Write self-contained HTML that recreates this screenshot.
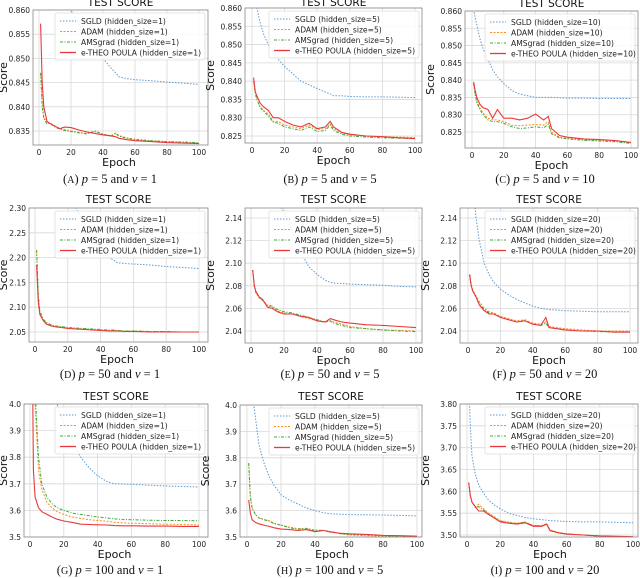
<!DOCTYPE html>
<html><head><meta charset="utf-8"><style>
body{margin:0;background:#fff;}
svg{display:block;font-family:"DejaVu Sans","Liberation Sans",sans-serif;}
.cap{font-family:"Liberation Serif",serif;font-size:12.5px;}
</style></head><body>
<svg id="fig" width="640" height="578" viewBox="0 0 640 578"></svg>
<script>
const EP=[1,2,3,5,7,10,13,16,20,25,30,35,40,45,48,50,55,60,70,80,90,100];
const seriesNames=["SGLD","ADAM","AMSgrad","e-THEO POULA"];
const hidden=[1,5,10,1,5,20,1,5,20];
const captions=[["A","5","1"],["B","5","5"],["C","5","10"],["D","50","1"],["E","50","5"],["F","50","20"],["G","100","1"],["H","100","5"],["I","100","20"]];
// Panel A
const A_sgld=[0.90,0.89,0.885,0.88,0.877,0.873,0.868,0.864,0.860,0.857,0.855,0.852,0.850,0.848,0.847,0.8462,0.8458,0.8456,0.8454,0.8451,0.8449,0.8446];
const A_adam=[0.847,0.841,0.838,0.8365,0.8367,0.836,0.8355,0.8353,0.835,0.8347,0.8345,0.8349,0.8344,0.8340,0.8346,0.8340,0.8336,0.8333,0.8330,0.8328,0.8327,0.8325];
const A_ams=[0.847,0.840,0.8375,0.8365,0.8366,0.8358,0.8354,0.8351,0.8349,0.8346,0.8344,0.8350,0.8343,0.8339,0.8345,0.8339,0.8335,0.8332,0.8330,0.8328,0.8327,0.8326];
const A_red=[0.8572,0.845,0.840,0.837,0.8365,0.836,0.8355,0.8358,0.8357,0.8352,0.8348,0.8345,0.8342,0.8340,0.8338,0.8335,0.8332,0.8330,0.8328,0.8326,0.8325,0.8324];
// Panel B
const B_sgld=[0.865,0.862,0.860,0.856,0.853,0.850,0.848,0.846,0.844,0.842,0.840,0.839,0.838,0.837,0.8365,0.836,0.836,0.8358,0.8357,0.8357,0.8356,0.8355];
const B_adam=[0.840,0.837,0.835,0.833,0.832,0.831,0.829,0.829,0.828,0.8275,0.827,0.828,0.8268,0.827,0.8283,0.827,0.8258,0.8253,0.8250,0.8248,0.8247,0.8246];
const B_ams=[0.840,0.8365,0.835,0.8328,0.8318,0.8305,0.8288,0.8285,0.8275,0.827,0.8265,0.8275,0.8262,0.8265,0.828,0.8265,0.8255,0.825,0.8247,0.8245,0.8244,0.8243];
const B_red=[0.841,0.837,0.836,0.834,0.833,0.832,0.830,0.830,0.829,0.828,0.8275,0.8285,0.827,0.8275,0.829,0.8275,0.826,0.8255,0.825,0.8248,0.8245,0.8243];
// Panel C
const C_sgld=[0.8605,0.858,0.856,0.852,0.849,0.846,0.843,0.841,0.839,0.837,0.836,0.8355,0.835,0.835,0.835,0.835,0.8349,0.8348,0.8348,0.8347,0.8347,0.8347];
const C_adam=[0.839,0.836,0.834,0.832,0.8305,0.829,0.8285,0.8285,0.828,0.827,0.8268,0.827,0.8272,0.827,0.828,0.825,0.8235,0.8232,0.8228,0.8226,0.8224,0.8219];
const C_ams=[0.839,0.8358,0.8335,0.8315,0.830,0.8285,0.828,0.828,0.8275,0.8265,0.826,0.8262,0.8265,0.8262,0.8272,0.8245,0.8233,0.823,0.8226,0.8224,0.8222,0.8217];
const C_red=[0.8395,0.837,0.835,0.833,0.832,0.8315,0.829,0.8315,0.829,0.829,0.8285,0.829,0.8302,0.8285,0.8295,0.826,0.824,0.8235,0.823,0.8228,0.8225,0.822];
// Panel D
const D_sgld=[2.60,2.55,2.50,2.46,2.43,2.40,2.37,2.345,2.32,2.30,2.27,2.245,2.22,2.20,2.195,2.19,2.188,2.187,2.185,2.182,2.180,2.178];
const D_adam=[2.215,2.12,2.09,2.075,2.068,2.063,2.061,2.060,2.058,2.057,2.056,2.055,2.054,2.053,2.053,2.053,2.052,2.052,2.051,2.051,2.050,2.050];
const D_ams=[2.215,2.125,2.092,2.076,2.069,2.064,2.062,2.061,2.059,2.058,2.057,2.056,2.055,2.054,2.054,2.053,2.052,2.052,2.051,2.051,2.050,2.050];
const D_red=[2.185,2.11,2.085,2.073,2.066,2.062,2.060,2.059,2.057,2.056,2.055,2.054,2.053,2.052,2.052,2.052,2.051,2.051,2.050,2.050,2.050,2.050];
// Panel E
const E_sgld=[2.30,2.27,2.25,2.22,2.20,2.18,2.165,2.155,2.145,2.128,2.11,2.097,2.09,2.085,2.083,2.0825,2.082,2.0815,2.081,2.0805,2.0795,2.079];
const E_adam=[2.094,2.08,2.074,2.069,2.067,2.062,2.061,2.058,2.056,2.055,2.053,2.051,2.049,2.048,2.049,2.048,2.046,2.044,2.042,2.041,2.0405,2.040];
const E_ams=[2.094,2.079,2.074,2.070,2.067,2.063,2.062,2.059,2.057,2.056,2.054,2.052,2.050,2.048,2.049,2.047,2.045,2.043,2.042,2.041,2.040,2.0395];
const E_red=[2.094,2.08,2.075,2.070,2.068,2.061,2.060,2.057,2.055,2.055,2.053,2.052,2.049,2.048,2.051,2.050,2.048,2.047,2.0455,2.045,2.044,2.043];
// Panel F
const F_sgld=[2.25,2.20,2.17,2.14,2.12,2.10,2.09,2.083,2.077,2.072,2.068,2.065,2.062,2.060,2.0595,2.059,2.0585,2.058,2.0575,2.057,2.057,2.057];
const F_adam=[2.09,2.081,2.076,2.071,2.066,2.060,2.057,2.056,2.053,2.051,2.049,2.050,2.047,2.046,2.048,2.044,2.043,2.042,2.041,2.040,2.040,2.040];
const F_ams=[2.09,2.080,2.075,2.070,2.064,2.059,2.056,2.055,2.052,2.050,2.048,2.049,2.046,2.045,2.047,2.043,2.042,2.041,2.040,2.0395,2.039,2.039];
const F_red=[2.09,2.08,2.075,2.070,2.063,2.058,2.055,2.055,2.052,2.050,2.048,2.049,2.046,2.045,2.052,2.043,2.042,2.041,2.040,2.040,2.039,2.039];
// Panel G
const G_sgld=[4.60,4.45,4.35,4.20,4.12,4.05,4.02,4.0,3.93,3.86,3.80,3.76,3.73,3.71,3.703,3.70,3.699,3.698,3.695,3.692,3.690,3.688];
const G_adam=[4.5,4.2,4.0,3.75,3.68,3.63,3.61,3.595,3.585,3.575,3.57,3.565,3.562,3.56,3.557,3.555,3.553,3.552,3.55,3.548,3.547,3.545];
const G_ams=[4.5,4.25,4.05,3.80,3.70,3.65,3.625,3.61,3.60,3.59,3.585,3.58,3.575,3.572,3.570,3.568,3.566,3.565,3.563,3.562,3.562,3.561];
const G_red=[4.5,3.75,3.65,3.61,3.595,3.585,3.575,3.567,3.56,3.555,3.548,3.547,3.546,3.545,3.544,3.543,3.542,3.542,3.541,3.541,3.540,3.540];
// Panel H
const H_sgld=[4.30,4.15,4.05,3.95,3.85,3.78,3.73,3.695,3.66,3.64,3.625,3.61,3.60,3.592,3.589,3.588,3.586,3.585,3.584,3.583,3.582,3.580];
const H_adam=[3.78,3.65,3.61,3.585,3.572,3.567,3.562,3.552,3.545,3.537,3.532,3.533,3.526,3.525,3.522,3.52,3.512,3.508,3.505,3.503,3.500,3.496];
const H_ams=[3.78,3.65,3.61,3.585,3.572,3.565,3.560,3.550,3.545,3.535,3.530,3.532,3.525,3.525,3.522,3.520,3.512,3.510,3.508,3.505,3.503,3.498];
const H_red=[3.64,3.59,3.565,3.555,3.55,3.545,3.54,3.535,3.53,3.528,3.525,3.528,3.52,3.525,3.52,3.518,3.514,3.512,3.51,3.506,3.505,3.503];
// Panel I
const I_sgld=[3.85,3.75,3.68,3.64,3.615,3.595,3.58,3.57,3.56,3.55,3.545,3.54,3.537,3.535,3.534,3.533,3.532,3.531,3.530,3.530,3.529,3.528];
const I_adam=[3.62,3.59,3.575,3.565,3.57,3.56,3.55,3.543,3.533,3.53,3.527,3.53,3.522,3.522,3.526,3.512,3.506,3.503,3.500,3.498,3.496,3.494];
const I_ams=[3.62,3.59,3.575,3.563,3.565,3.557,3.548,3.54,3.532,3.528,3.526,3.529,3.521,3.521,3.524,3.511,3.505,3.502,3.500,3.497,3.495,3.493];
const I_red=[3.62,3.59,3.575,3.565,3.555,3.555,3.547,3.54,3.53,3.527,3.525,3.528,3.52,3.52,3.525,3.51,3.505,3.502,3.500,3.498,3.497,3.496];
const yTickA=[0.835,0.840,0.845,0.850,0.855,0.860];
const yTickB=[0.825,0.830,0.835,0.840,0.845,0.850,0.855,0.860];
const yTickD=[2.05,2.10,2.15,2.20,2.25,2.30];
const yTickE=[2.04,2.06,2.08,2.10,2.12,2.14];
const yTickG=[3.5,3.6,3.7,3.8,3.9,4.0];
const yTickI=[3.50,3.55,3.60,3.65,3.70,3.75,3.80];
const xTicks=[0,20,40,60,80,100];
const panelData=[[A_sgld,A_adam,A_ams,A_red],[B_sgld,B_adam,B_ams,B_red],[C_sgld,C_adam,C_ams,C_red],[D_sgld,D_adam,D_ams,D_red],[E_sgld,E_adam,E_ams,E_red],[F_sgld,F_adam,F_ams,F_red],[G_sgld,G_adam,G_ams,G_red],[H_sgld,H_adam,H_ams,H_red],[I_sgld,I_adam,I_ams,I_red]];
const panelTicks=[yTickA,yTickB,yTickB,yTickD,yTickE,yTickE,yTickG,yTickG,yTickI];
const dec=[3,3,3,2,2,2,1,1,2];

// geometry (layout, not data)
const G=[
 {l:33,r:208,t:10,b:145,x0:39,x1:199,v1:0.860,p1:10,v2:0.835,p2:131,cy:183,tty:6},
 {l:245,r:422,t:8,b:143,x0:252,x1:415,v1:0.860,p1:8,v2:0.825,p2:136,cy:183,tty:6},
 {l:465,r:638,t:11,b:148,x0:472,x1:631,v1:0.860,p1:11,v2:0.825,p2:132,cy:183,tty:7},
 {l:29,r:208,t:208,b:342,x0:35,x1:199,v1:2.30,p1:208,v2:2.05,p2:332,cy:378,tty:203},
 {l:245,r:422,t:208,b:343,x0:251,x1:416,v1:2.14,p1:218,v2:2.04,p2:331,cy:378,tty:203},
 {l:460,r:638,t:208,b:343,x0:468,x1:630,v1:2.14,p1:218,v2:2.04,p2:331,cy:378,tty:203},
 {l:24,r:208,t:404,b:537,x0:30,x1:199,v1:4.0,p1:404,v2:3.5,p2:537,cy:574,tty:400},
 {l:240,r:422,t:405,b:537,x0:247,x1:417,v1:4.0,p1:405,v2:3.5,p2:537,cy:574,tty:400},
 {l:460,r:638,t:404,b:537,x0:467,x1:633,v1:3.80,p1:404,v2:3.50,p2:535,cy:574,tty:400}
];
const colors=["#5b9bd5","#ff8c1a","#3aaa3a","#e8383d"];
const dashes=["1.5,1.5","2,1.5","3,1.5,1,1.5",""];
const NS="http://www.w3.org/2000/svg";
const svg=document.getElementById('fig');
function mk(tag,attrs,parent){const e=document.createElementNS(NS,tag);for(const k in attrs)e.setAttribute(k,attrs[k]);(parent||svg).appendChild(e);return e;}
const defs=mk('defs',{});
G.forEach((g,i)=>{
  const X=v=>g.x0+(v)*(g.x1-g.x0)/100;
  const Y=v=>g.p1+(v-g.v1)*(g.p2-g.p1)/(g.v2-g.v1);
  const grp=mk('g',{});
  
  
  const cp=mk('clipPath',{id:'cp'+i},defs);
  mk('rect',{x:g.l,y:g.t,width:g.r-g.l,height:g.b-g.t},cp);
  xTicks.forEach(t=>{
    const gl=mk('line',{x1:X(t),x2:X(t),y1:g.t,y2:g.b,stroke:'#d8d8d8','stroke-width':0.8},grp);
    
    
    const tl=mk('text',{x:X(t),y:g.b+10,'font-size':7.5,'text-anchor':'middle',fill:'#222'},grp);
    tl.textContent=t;
    
    
  });
  panelTicks[i].forEach(t=>{
    const gl=mk('line',{x1:g.l,x2:g.r,y1:Y(t),y2:Y(t),stroke:'#d8d8d8','stroke-width':0.8},grp);
    
    
    const tl=mk('text',{x:g.l-3,y:Y(t)+3,'font-size':7.5,'text-anchor':'end',fill:'#222'},grp);
    tl.textContent=t.toFixed(dec[i]);
    
    
  });
  const sg=mk('g',{'clip-path':'url(#cp'+i+')'},grp);
  panelData[i].forEach((arr,s)=>{
    const d=arr.map((v,k)=>(k?'L':'M')+X(EP[k]).toFixed(1)+','+Y(v).toFixed(1)).join(' ');
    const p=mk('path',{d:d,fill:'none',stroke:colors[s],'stroke-width':s==3?1.1:1,'stroke-dasharray':dashes[s]},sg);
    
    
  });
  const fr=mk('rect',{x:g.l,y:g.t,width:g.r-g.l,height:g.b-g.t,fill:'none',stroke:'#888','stroke-width':0.8},grp);
  
  
  const lw=150,lh=47,lx=g.r-lw-3,ly=g.t+3;
  const lg=mk('g',{},grp);
  
  
  mk('rect',{x:lx,y:ly,width:lw,height:lh,rx:2,fill:'#fff','fill-opacity':0.85,stroke:'#ddd','stroke-width':0.8},lg);
  seriesNames.forEach((n,s)=>{
    const yy=ly+8+s*10.5;
    mk('line',{x1:lx+5,x2:lx+21,y1:yy,y2:yy,stroke:colors[s],'stroke-width':s==3?1.3:1,'stroke-dasharray':dashes[s]},lg);
    const t=mk('text',{x:lx+26,y:yy+3,'font-size':7.6,fill:'#222'},lg);
    t.textContent=n+' (hidden_size='+hidden[i]+')';
    
    
  });
  const tt=mk('text',{x:(g.l+g.r)/2,y:g.tty,'font-size':10.5,'text-anchor':'middle',fill:'#111'},grp);
  tt.textContent='TEST SCORE';
  
  
  const xl=mk('text',{x:(g.x0+g.x1)/2,y:g.b+21,'font-size':11,'text-anchor':'middle',fill:'#111'},grp);
  xl.textContent='Epoch';
  
  
  const yx=Math.max(7,g.l-31), yc=(g.t+g.b)/2;
  const yl=mk('text',{x:yx,y:yc,'font-size':11,'text-anchor':'middle',fill:'#111',transform:'rotate(-90 '+yx+' '+yc+')'},grp);
  yl.textContent='Score';
  
  
  const cx=[110,330,545][i%3];
  const c=mk('text',{x:cx,y:g.cy,'text-anchor':'middle',class:'cap',fill:'#111'},grp);
  c.innerHTML='(<tspan font-size="10">'+captions[i][0]+'</tspan>) <tspan font-style="italic">p</tspan> = '+captions[i][1]+' and <tspan font-style="italic">ν</tspan> = '+captions[i][2];
  
  
});
</script>
</body></html>
